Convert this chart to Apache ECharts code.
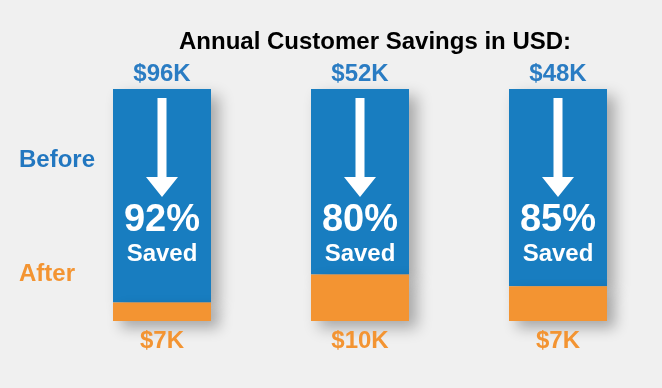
<!DOCTYPE html>
<html><head><meta charset="utf-8">
<script src="https://cdn.jsdelivr.net/npm/echarts@6/dist/echarts.min.js"></script>
<style>html,body{margin:0;padding:0;background:#f0f0f0;}#c{width:662px;height:388px;}</style>
</head><body><div id="c"></div>
<script>
const categories = ['Customer 1', 'Customer 2', 'Customer 3'];
const beforeK = [96, 52, 48];      // annual cost before, $K
const afterK = [7, 10, 7];         // annual cost after, $K
const savedPct = [92, 80, 85];     // percent saved
const FONT = '"Liberation Sans", Arial, sans-serif';
const BLUE = '#187dc0', ORANGE = '#f39432';
const afterPct = savedPct.map(p => 100 - p);
const totalPct = savedPct.map((p, i) => p + afterPct[i]);
const chart = echarts.init(document.getElementById('c'));
const arrow = 'path://M11.5,0 L20.5,0 L20.5,79 L32,79 L16,99 L0,79 L11.5,79 Z';
chart.setOption({
  backgroundColor: '#f0f0f0',
  animation: false,
  title: { text: 'Annual Customer Savings in USD:', left: 174, top: 25,
    textStyle: { fontFamily: FONT, fontWeight: 'bold', fontSize: 24, color: '#000' } },
  grid: { left: 63, right: 5, top: 89, bottom: 67 },
  xAxis: { type: 'category', data: categories, show: false },
  yAxis: { type: 'value', min: 0, max: 100, show: false },
  graphic: [
    { type: 'text', left: 19, top: 148, style: { text: 'Before', fill: '#2277c0', font: 'bold 24px ' + FONT } },
    { type: 'text', left: 19, top: 262, style: { text: 'After', fill: ORANGE, font: 'bold 24px ' + FONT } }
  ],
  series: [
    { name: 'After', type: 'bar', stack: 's', barWidth: 98, z: 3, data: afterPct,
      itemStyle: { color: ORANGE, shadowBlur: 14, shadowOffsetX: 8, shadowOffsetY: 7, shadowColor: 'rgba(0,0,0,0.3)' },
      label: { show: true, position: 'bottom', distance: 8, color: ORANGE,
        fontFamily: FONT, fontWeight: 'bold', fontSize: 24,
        formatter: p => '$' + afterK[p.dataIndex] + 'K' } },
    { name: 'Before', type: 'bar', stack: 's', barWidth: 98, z: 2, data: savedPct,
      itemStyle: { color: BLUE, shadowBlur: 14, shadowOffsetX: 8, shadowOffsetY: 7, shadowColor: 'rgba(0,0,0,0.3)' },
      label: { show: true, position: 'insideTop', distance: 0, offset: [0, 112], color: '#fff',
        formatter: p => '{pct|' + savedPct[p.dataIndex] + '%}\n{sv|Saved}',
        rich: {
          pct: { fontFamily: FONT, fontWeight: 'bold', fontSize: 38, lineHeight: 40, color: '#fff' },
          sv: { fontFamily: FONT, fontWeight: 'bold', fontSize: 24, lineHeight: 26, color: '#fff' }
        } } },
    { name: 'Arrow', type: 'pictorialBar', z: 5, data: totalPct,
      symbol: arrow, symbolSize: [32, 99], symbolPosition: 'end', symbolOffset: [0, 9],
      itemStyle: { color: '#fff' },
      label: { show: true, position: 'top', distance: 3, color: '#2a7cc3',
        fontFamily: FONT, fontWeight: 'bold', fontSize: 24,
        formatter: p => '$' + beforeK[p.dataIndex] + 'K' } }
  ]
});
</script></body></html>
